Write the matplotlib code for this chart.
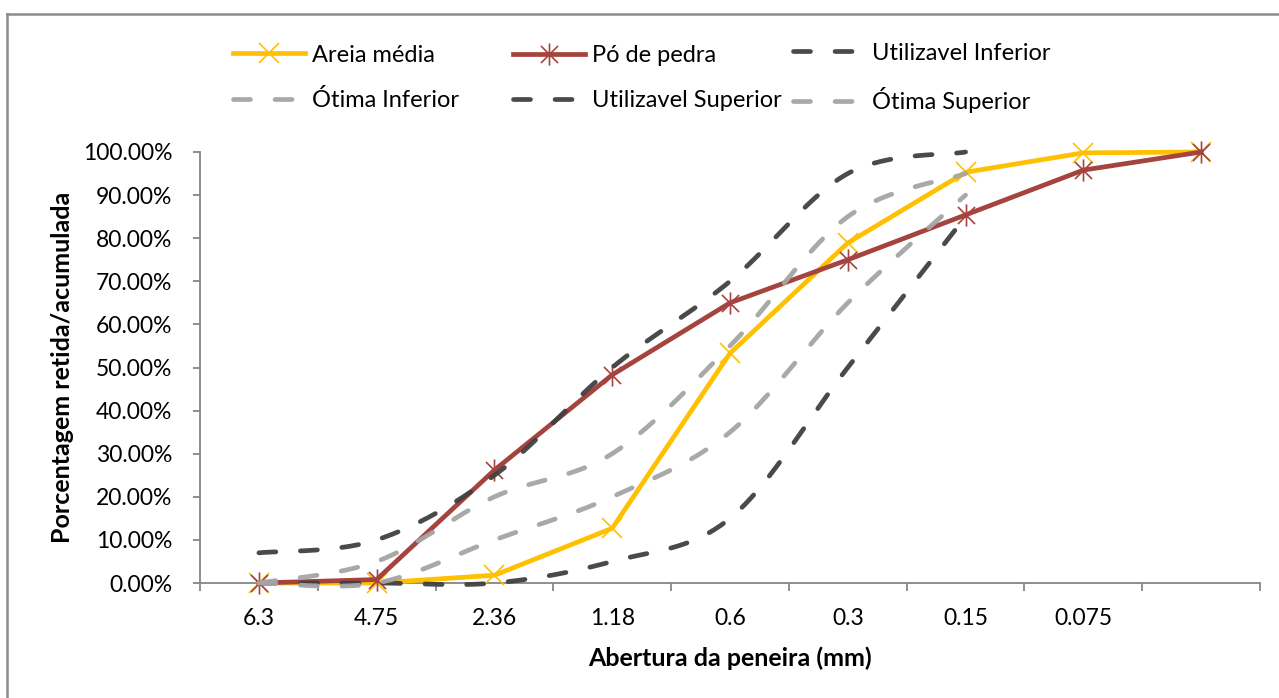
import numpy as np
import matplotlib.pyplot as plt
from matplotlib.path import Path
from matplotlib.lines import Line2D

plt.rcParams['font.family'] = ['Lato', 'DejaVu Sans']

# Peneiras (mm); a última categoria fica sem rótulo
peneiras = ['6.3', '4.75', '2.36', '1.18', '0.6', '0.3', '0.15', '0.075', '']

areia_media = [0.0, 0.0, 1.8, 12.7, 53.3, 78.9, 95.3, 99.8, 100.0]
po_de_pedra = [0.0, 0.8, 26.2, 48.3, 65.0, 75.0, 85.4, 95.8, 100.0]

# Limites da NBR 7211 (até a peneira 0.15)
util_inferior = [0, 0, 0, 5, 15, 50, 85]
otima_inferior = [0, 0, 10, 20, 35, 65, 90]
util_superior = [7, 10, 25, 50, 70, 95, 100]
otima_superior = [0, 5, 20, 30, 55, 85, 95]

AMARELO = '#FFC000'
VERMELHO = '#A5443F'
ESCURO = '#404040'
CINZA = '#A5A5A5'
EIXO = '#868686'

W, H = 1279, 698


def suavizar(y, n=40):
    """Curva suavizada estilo Excel (Catmull-Rom convertida em Bezier)."""
    y = np.asarray(y, dtype=float)
    x = np.arange(len(y), dtype=float)
    pts = np.column_stack([x, y])
    ext = np.vstack([pts[0], pts, pts[-1]])
    xs, ys = [], []
    t = np.linspace(0, 1, n)[:, None]
    for i in range(len(pts) - 1):
        p0, p1, p2, p3 = ext[i], ext[i + 1], ext[i + 2], ext[i + 3]
        c1 = p1 + (p2 - p0) / 6
        c2 = p2 - (p3 - p1) / 6
        seg = ((1 - t) ** 3) * p1 + 3 * ((1 - t) ** 2) * t * c1 \
            + 3 * (1 - t) * t ** 2 * c2 + t ** 3 * p2
        xs.append(seg[:, 0])
        ys.append(seg[:, 1])
    return np.concatenate(xs), np.concatenate(ys)


# marcador asterisco (x + traço vertical)
asterisco = Path(
    [(-1, -1), (1, 1), (-1, 1), (1, -1), (0, -1.3), (0, 1.3)],
    [Path.MOVETO, Path.LINETO, Path.MOVETO, Path.LINETO, Path.MOVETO, Path.LINETO],
)

fig = plt.figure(figsize=(W / 100, H / 100), dpi=100)
ax = fig.add_axes([200 / W, 1 - 583 / H, 1060 / W, 431 / H])

lw = 3.4
h_areia, = ax.plot(range(len(areia_media)), areia_media, color=AMARELO, lw=lw,
                   marker='x', markersize=14, markeredgewidth=1.2, clip_on=False,
                   zorder=3, label='Areia média')
h_po, = ax.plot(range(len(po_de_pedra)), po_de_pedra, color=VERMELHO, lw=lw,
                marker=asterisco, markersize=16, markeredgewidth=1.2, clip_on=False,
                zorder=3, label='Pó de pedra')

limites = [
    (util_inferior, ESCURO, 'Utilizavel Inferior'),
    (otima_inferior, CINZA, 'Ótima Inferior'),
    (util_superior, ESCURO, 'Utilizavel Superior'),
    (otima_superior, CINZA, 'Ótima Superior'),
]
h_lim = []
for serie, cor, nome in limites:
    xs, ys = suavizar(serie)
    h, = ax.plot(xs, ys, color=cor, lw=lw, dashes=(3.6, 5.2), dash_capstyle='round',
                 clip_on=False, zorder=4, label=nome, alpha=0.95)
    h_lim.append(h)

ax.set_xlim(-0.5, len(peneiras) - 0.5)
ax.set_ylim(0, 100)

ax.set_xticks(np.arange(-0.5, len(peneiras)), minor=False)
ax.set_xticklabels([])
ax.set_xticks(range(len(peneiras)), minor=True)
ax.set_xticklabels(peneiras, minor=True)
ax.tick_params(axis='x', which='minor', length=0, pad=18, labelsize=16.5)
ax.tick_params(axis='x', which='major', length=6, width=1.3, color=EIXO)

ax.set_yticks(np.arange(0, 101, 10))
ax.set_yticklabels([f'{v:.2f}%' for v in np.arange(0, 101, 10)])
ax.tick_params(axis='y', length=5, width=1.3, color=EIXO, pad=15, labelsize=16.5)

for s in ['top', 'right']:
    ax.spines[s].set_visible(False)
for s in ['left', 'bottom']:
    ax.spines[s].set_color(EIXO)
    ax.spines[s].set_linewidth(1.3)

fig.text(730 / W, 1 - 658 / H, 'Abertura da peneira (mm)', fontsize=18,
         fontweight='bold', ha='center', va='center')
fig.text(62 / W, 1 - 367 / H, 'Porcentagem retida/acumulada', fontsize=18,
         fontweight='bold', ha='center', va='center', rotation=90)

# legenda em três colunas de largura fixa, preenchida por linhas
colunas = [
    [h_areia, h_lim[1]],
    [h_po, h_lim[2]],
    [h_lim[0], h_lim[3]],
]
for i, hs in enumerate(colunas):
    fig.legend(hs, [h.get_label() for h in hs], loc='center left',
               bbox_to_anchor=((233 + 280 * i) / W, 1 - 78 / H), ncol=1,
               frameon=False, fontsize=17, handlelength=3.05, handletextpad=0.3,
               labelspacing=1.0, borderpad=0, borderaxespad=0)

# borda da área do gráfico
fig.add_artist(Line2D([7 / W, 1], [1 - 14 / H] * 2, color='#8c8c8c', lw=1.8,
                      transform=fig.transFigure))
fig.add_artist(Line2D([7 / W] * 2, [0, 1 - 14 / H], color='#8c8c8c', lw=1.8,
                      transform=fig.transFigure))

fig.savefig('out.png', dpi=100)
